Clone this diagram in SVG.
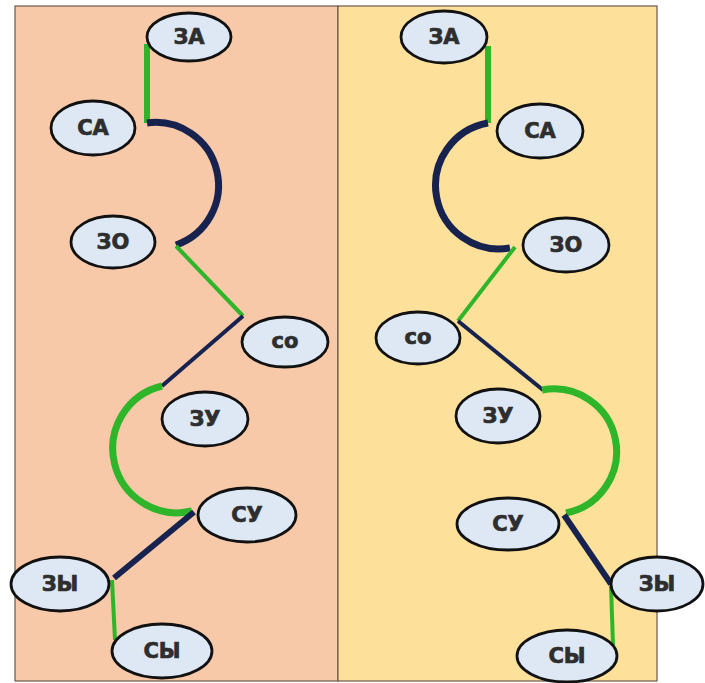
<svg xmlns="http://www.w3.org/2000/svg" width="705" height="683" viewBox="0 0 705 683">
<style>
.node ellipse{fill:#dde8f4;stroke:#111;stroke-width:2.8}
.node text{font-family:"DejaVu Sans","Liberation Sans",sans-serif;font-weight:bold;font-size:21px;fill:#2e2e2e;stroke:#2e2e2e;stroke-width:0.7;text-anchor:middle}
.g{stroke:#2eb52a;fill:none;stroke-linecap:butt}
.n{stroke:#17224f;fill:none;stroke-linecap:butt}
</style>
<rect width="705" height="683" fill="#ffffff"/>
<g id="panels">
<rect x="15" y="6" width="323" height="675" fill="#f7c9a8" stroke="#6b5a4e" stroke-width="1.2"/>
<rect x="338" y="6" width="319" height="675" fill="#fde19a" stroke="#6b5a4e" stroke-width="1.2"/>
</g>
<g id="connectors">
<path class="g" stroke-width="6" d="M147 44 L147 123"/>
<path class="n" stroke-width="7" d="M147 123 A63 63 0 0 1 176 245"/>
<path class="g" stroke-width="4" d="M176 246 L243 316"/>
<path class="n" stroke-width="4" d="M243 316 L162 386"/>
<path class="g" stroke-width="7" d="M162 386 A64 64 0 0 0 192 511"/>
<path class="n" stroke-width="6" d="M194 512 L114 578"/>
<path class="g" stroke-width="4" d="M112 580 L115 640"/>
<path class="g" stroke-width="6" d="M488 46 L488 123"/>
<path class="n" stroke-width="7" d="M488 123 A63 63 0 0 0 510 248"/>
<path class="g" stroke-width="4" d="M515 247 L458 321"/>
<path class="n" stroke-width="4" d="M458 321 L543 390"/>
<path class="g" stroke-width="7" d="M542 390 A62 62 0 0 1 566 513"/>
<path class="n" stroke-width="6" d="M564 515 L611 584"/>
<path class="g" stroke-width="4" d="M611 586 L613 645"/>
</g>
<g id="L-ZA" class="node"><ellipse cx="189" cy="37" rx="42" ry="24"/><text x="189" y="44">ЗА</text></g>
<g id="L-SA" class="node"><ellipse cx="93" cy="128" rx="42" ry="27"/><text x="93" y="135">СА</text></g>
<g id="L-ZO" class="node"><ellipse cx="113" cy="242" rx="42" ry="26"/><text x="113" y="249">ЗО</text></g>
<g id="L-SO" class="node"><ellipse cx="285" cy="342" rx="43" ry="25"/><text x="285" y="348">со</text></g>
<g id="L-ZU" class="node"><ellipse cx="205" cy="419" rx="43" ry="27"/><text x="205" y="426">ЗУ</text></g>
<g id="L-SU" class="node"><ellipse cx="247" cy="515" rx="49" ry="27"/><text x="247" y="522">СУ</text></g>
<g id="L-ZY" class="node"><ellipse cx="60" cy="584" rx="49" ry="27"/><text x="60" y="591">ЗЫ</text></g>
<g id="L-SY" class="node"><ellipse cx="162" cy="651" rx="50" ry="27"/><text x="162" y="658">СЫ</text></g>
<g id="R-ZA" class="node"><ellipse cx="444" cy="37" rx="43" ry="26"/><text x="444" y="44">ЗА</text></g>
<g id="R-SA" class="node"><ellipse cx="540" cy="131" rx="43" ry="27"/><text x="540" y="138">СА</text></g>
<g id="R-ZO" class="node"><ellipse cx="566" cy="245" rx="43" ry="27"/><text x="566" y="252">ЗО</text></g>
<g id="R-SO" class="node"><ellipse cx="418" cy="338" rx="42" ry="26"/><text x="418" y="344">со</text></g>
<g id="R-ZU" class="node"><ellipse cx="498" cy="416" rx="42" ry="27"/><text x="498" y="423">ЗУ</text></g>
<g id="R-SU" class="node"><ellipse cx="508" cy="524" rx="51" ry="26"/><text x="508" y="531">СУ</text></g>
<g id="R-ZY" class="node"><ellipse cx="657" cy="584" rx="46" ry="27"/><text x="657" y="591">ЗЫ</text></g>
<g id="R-SY" class="node"><ellipse cx="567" cy="656" rx="50" ry="26"/><text x="567" y="663">СЫ</text></g>
</svg>
